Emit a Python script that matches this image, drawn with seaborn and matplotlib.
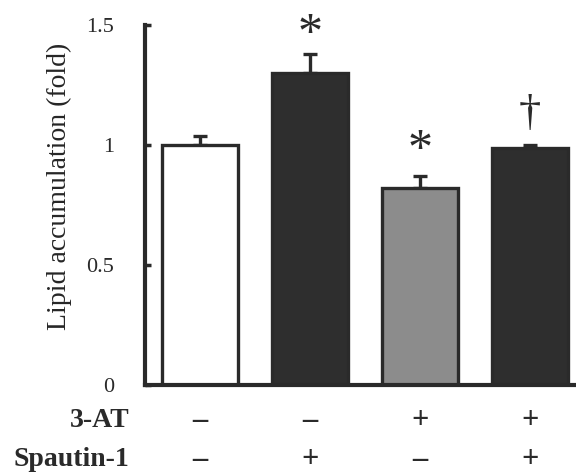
import numpy as np
import pandas as pd
import seaborn as sns
import matplotlib.pyplot as plt

# values
groups = ["ctrl", "spautin", "3at", "3at_spautin"]
means = [1.00, 1.30, 0.82, 0.99]
errs = [0.04, 0.08, 0.05, 0.01]
colors = ["#ffffff", "#2e2e2e", "#8c8c8c", "#2e2e2e"]
marks = ["", "*", "*", "\u2020"]
mark_y = [0, 1.46, 0.975, 1.13]
at_signs = ["\u2013", "\u2013", "+", "+"]
spautin_signs = ["\u2013", "+", "\u2013", "+"]

df = pd.DataFrame({"group": groups, "value": means})

sns.set_style("ticks")
plt.rcParams["font.family"] = ["Liberation Serif", "DejaVu Serif"]

fig = plt.figure(figsize=(5.76, 4.75), dpi=100)
ax = fig.add_axes([0.2517, 0.1895, 0.7483, 0.7575])

sns.barplot(data=df, x="group", y="value", hue="group", palette=colors,
            legend=False, width=0.69, edgecolor="#2a2a2a", linewidth=2.4,
            ax=ax)

x = np.arange(len(groups))
ax.errorbar(x, means, yerr=[np.zeros(len(errs)), errs], fmt="none",
            ecolor="#2a2a2a", elinewidth=2.4, capsize=5, capthick=2.4, zorder=0)

for i, m in enumerate(marks):
    if not m:
        continue
    fs = 36 if m == "*" else 32
    ax.text(x[i], mark_y[i], m, ha="center", va="center",
            fontsize=fs, color="#2a2a2a", clip_on=False)

ax.set_xlim(-0.5, 3.42)
ax.set_ylim(0, 1.5)
ax.set_yticks([0, 0.5, 1, 1.5])
ax.set_yticklabels(["0", "0.5", "1", "1.5"], fontsize=16)
ax.set_xticks([])
ax.set_xlabel("")
ax.set_ylabel("Lipid accumulation (fold)", fontsize=20)
ax.yaxis.set_label_coords(-0.169, 0.553)
ax.tick_params(axis="y", direction="in", length=4, width=2.5, pad=22,
               colors="#2a2a2a")
for s in ["top", "right"]:
    ax.spines[s].set_visible(False)
for s in ["left", "bottom"]:
    ax.spines[s].set_linewidth(3)
    ax.spines[s].set_color("#2a2a2a")

# treatment table under the bars
row_y = [-0.15, -0.31]
row_names = ["3-AT", "Spautin-1"]
for ry, name, signs in zip(row_y, row_names, [at_signs, spautin_signs]):
    ax.text(-0.64, ry, name, ha="right", va="center", fontsize=20,
            fontweight="bold", color="#2a2a2a", clip_on=False)
    for i, s in enumerate(signs):
        ax.text(x[i], ry, s, ha="center", va="center", fontsize=22,
                fontweight="bold", color="#2a2a2a", clip_on=False)

fig.savefig("out.png", dpi=100)
